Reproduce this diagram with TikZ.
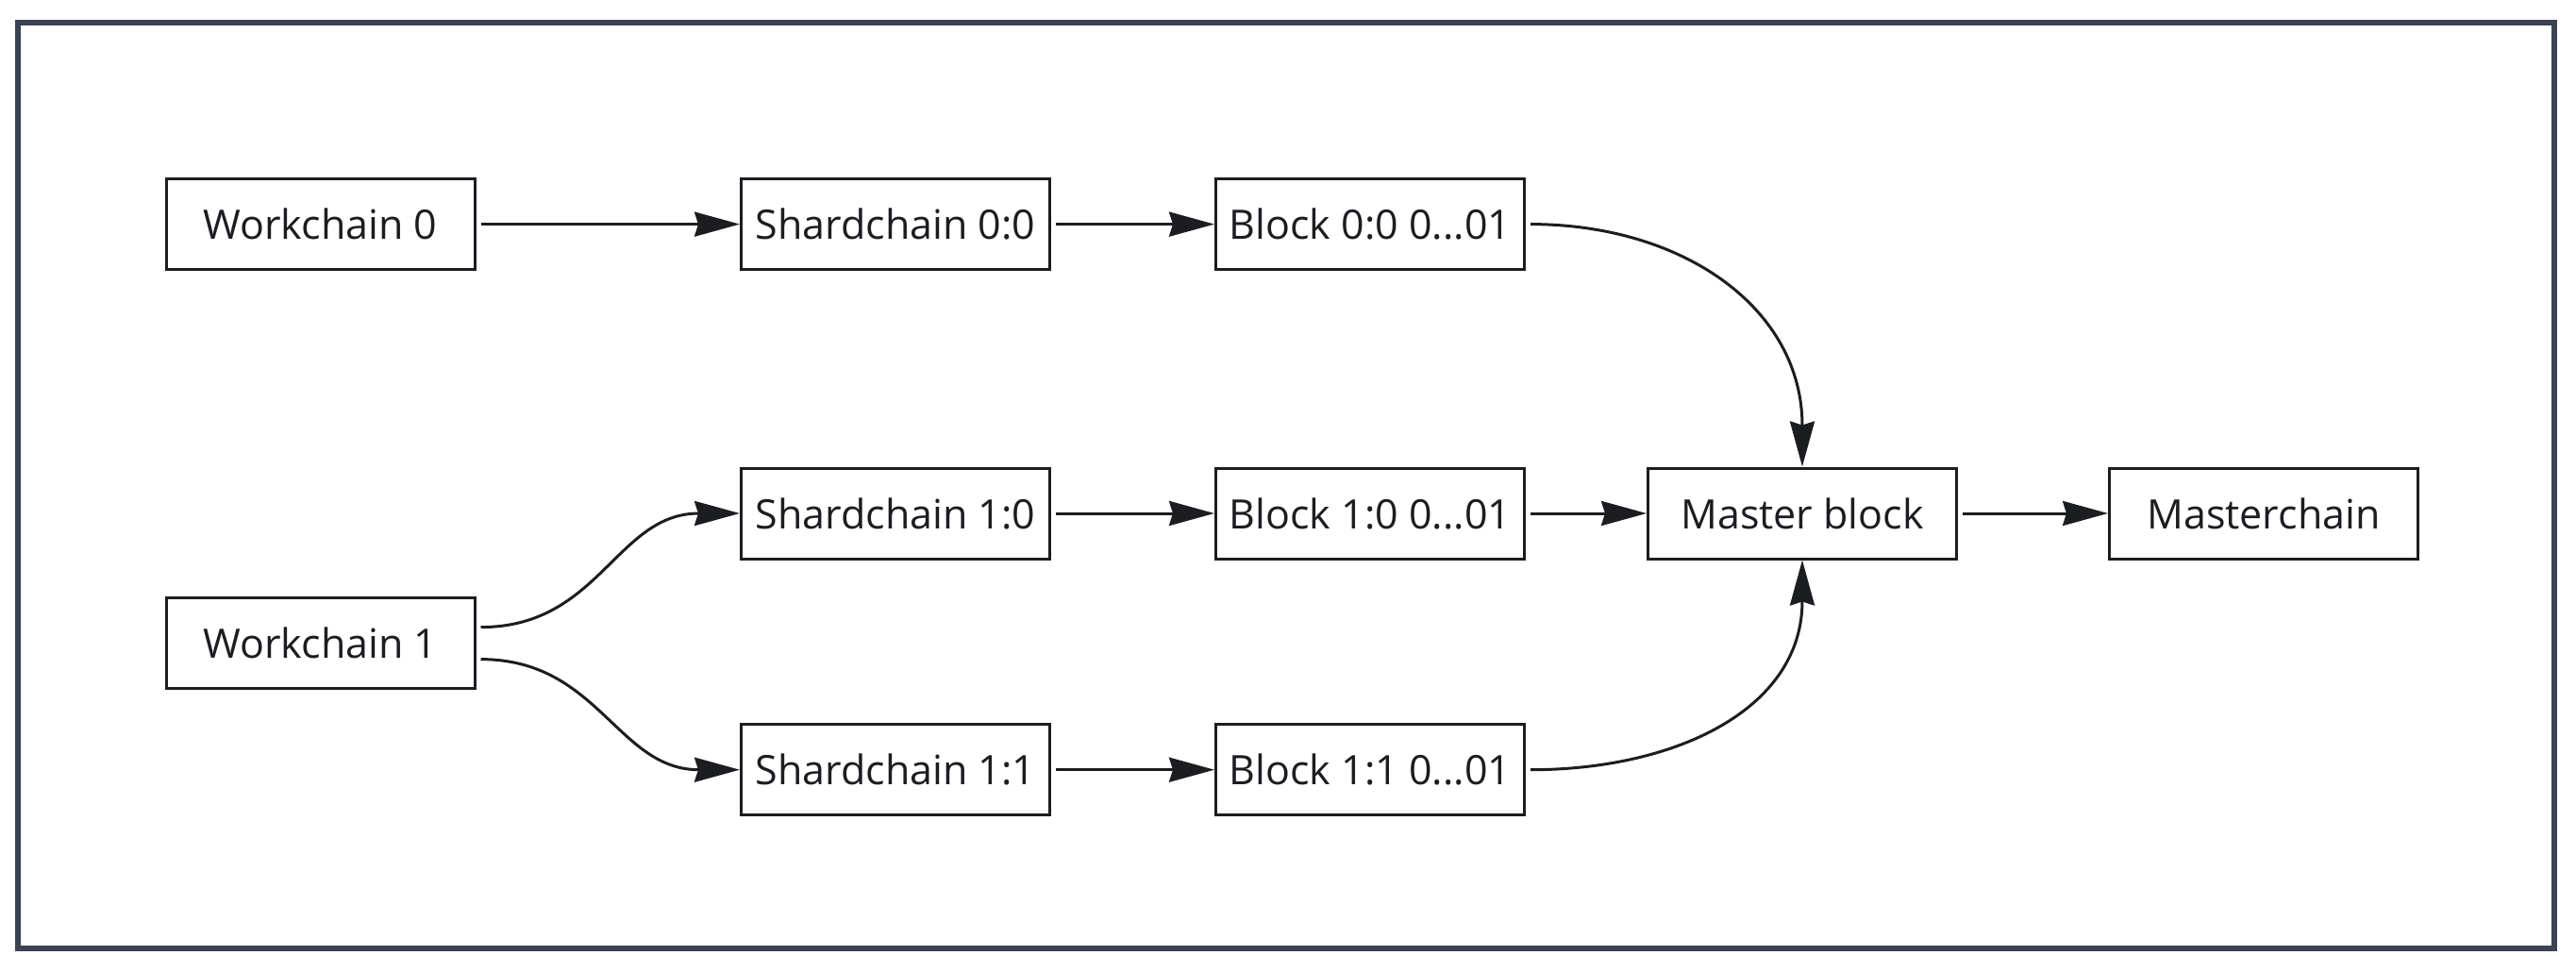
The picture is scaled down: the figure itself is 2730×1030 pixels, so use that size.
\documentclass[tikz,border=0pt]{standalone}
\usepackage{fontspec}
\setmainfont{Open Sans}
\usetikzlibrary{arrows.meta}
\definecolor{ink}{HTML}{1B1D21}
\definecolor{framec}{HTML}{3B4252}
\begin{document}
\begin{tikzpicture}[x=1pt,y=-1pt,
  box/.style={draw=ink, line width=3pt, minimum width=327pt, minimum height=96pt,
    inner sep=0pt, text=ink, font=\fontsize{43}{50}\selectfont},
  conn/.style={draw=ink, line width=3pt, shorten <=5pt,
    -{Stealth[length=48pt,width=26pt,inset=4pt]}}]
\useasboundingbox (0,0) rectangle (2730,1030);
\draw[framec, line width=6pt] (19,24) rectangle (2707,1005);
\node[box] (w0)  at (339.5,237.6) {Workchain 0};
\node[box] (s00) at (949,237.6) {Shardchain 0:0};
\node[box] (b00) at (1452,237.6) {Block 0:0 0...01};
\node[box] (s10) at (949,544) {Shardchain 1:0};
\node[box] (b10) at (1452,544) {Block 1:0 0...01};
\node[box] (mb)  at (1910,544) {Master block};
\node[box] (mc)  at (2399,544) {Masterchain};
\node[box] (w1)  at (339.5,681.6) {Workchain 1};
\node[box] (s11) at (949,815.7) {Shardchain 1:1};
\node[box] (b11) at (1452,815.7) {Block 1:1 0...01};
\draw[conn] (w0) -- (s00);
\draw[conn] (s00) -- (b00);
\draw[conn] (s10) -- (b10);
\draw[conn] (s11) -- (b11);
\draw[conn] (b10) -- (mb);
\draw[conn] (mb) -- (mc);
\draw[conn] (b00.east) to[out=0,in=90,looseness=1.1] (mb.north);
\draw[conn] (b11.east) to[out=0,in=-90,looseness=1.1] (mb.south);
\draw[conn] ([yshift=17pt]w1.east) to[out=0,in=180,looseness=1.1] (s10.west);
\draw[conn] ([yshift=-17pt]w1.east) to[out=0,in=180,looseness=1.1] (s11.west);
\end{tikzpicture}
\end{document}
